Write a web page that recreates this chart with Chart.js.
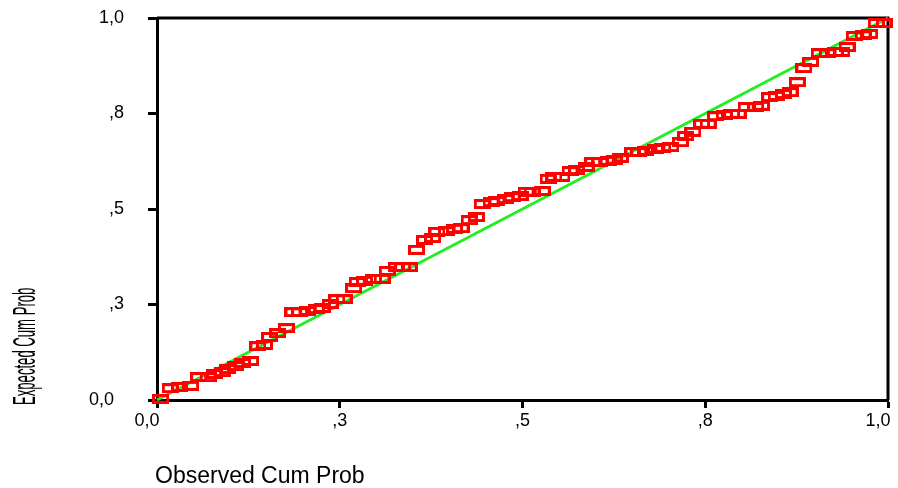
<!DOCTYPE html>
<html><head><meta charset="utf-8">
<script src="https://cdn.jsdelivr.net/npm/chart.js@4/dist/chart.umd.min.js"></script>
<style>html,body{margin:0;padding:0;background:#fff;overflow:hidden}#wrap{width:898px;height:488px}</style>
</head><body><div id="wrap"><canvas id="c" width="898" height="488"></canvas></div>
<script>
// Observed cumulative probability (x) and expected cumulative probability (y)
const obsCumProb = [0.005,0.018,0.031,0.046,0.057,0.070,0.079,0.089,0.097,0.108,0.117,0.128,0.138,0.147,0.154,0.165,0.177,0.186,0.195,0.206,0.218,0.226,0.237,0.246,0.256,0.269,0.274,0.284,0.296,0.308,0.315,0.327,0.336,0.345,0.355,0.366,0.377,0.383,0.396,0.407,0.416,0.427,0.437,0.445,0.457,0.465,0.477,0.486,0.497,0.505,0.513,0.527,0.535,0.543,0.554,0.565,0.574,0.587,0.596,0.606,0.617,0.626,0.634,0.651,0.659,0.668,0.682,0.692,0.703,0.716,0.723,0.733,0.745,0.754,0.764,0.776,0.786,0.795,0.806,0.819,0.827,0.838,0.847,0.857,0.866,0.876,0.885,0.894,0.906,0.917,0.928,0.937,0.944,0.954,0.966,0.975,0.984,0.995];
const expCumProb = [0.003,0.031,0.034,0.037,0.060,0.060,0.068,0.073,0.081,0.089,0.097,0.102,0.141,0.144,0.165,0.175,0.188,0.230,0.230,0.233,0.238,0.241,0.251,0.264,0.264,0.293,0.309,0.312,0.317,0.317,0.338,0.348,0.348,0.348,0.393,0.419,0.424,0.440,0.442,0.448,0.450,0.471,0.479,0.513,0.518,0.521,0.526,0.531,0.534,0.545,0.545,0.547,0.579,0.584,0.584,0.599,0.602,0.610,0.623,0.623,0.626,0.628,0.634,0.649,0.649,0.652,0.657,0.660,0.662,0.675,0.691,0.702,0.723,0.723,0.743,0.746,0.749,0.749,0.767,0.767,0.770,0.793,0.796,0.801,0.806,0.832,0.869,0.885,0.908,0.908,0.911,0.911,0.924,0.953,0.955,0.958,0.987,0.987];
const refLineX = [0, 1];
const refLineY = [0, 1];
const tickValues = [0, 0.25, 0.5, 0.75, 1];
const tickLabels = ["0,0", ",3", ",5", ",8", "1,0"];
const xTitle = "Observed Cum Prob";
const yTitle = "Expected Cum Prob";

function makeMarker(){
  const c = document.createElement('canvas');
  c.width = 17; c.height = 10;
  const g = c.getContext('2d');
  g.strokeStyle = '#ff0000'; g.lineWidth = 3;
  g.strokeRect(1.5, 1.5, 14, 7);
  return c;
}
const marker = makeMarker();

const framePlugin = {
  id: 'frame',
  beforeDatasetsDraw(chart){
    const {ctx, chartArea:a} = chart;
    ctx.save();
    ctx.strokeStyle = '#000'; ctx.lineWidth = 3;
    ctx.beginPath();
    ctx.moveTo(a.left, a.top); ctx.lineTo(a.right, a.top); ctx.lineTo(a.right, a.bottom);
    ctx.stroke();
    ctx.restore();
  },
  afterDraw(chart){
    const ctx = chart.ctx;
    ctx.save();
    ctx.fillStyle = '#000';
    ctx.font = '23px "Liberation Sans", Arial, sans-serif';
    ctx.textBaseline = 'alphabetic'; ctx.textAlign = 'left';
    ctx.fillText(xTitle, 155, 483);
    ctx.translate(35, 405);
    ctx.rotate(-Math.PI/2);
    ctx.scale(0.41, 1);
    ctx.font = '32px "Liberation Sans", Arial, sans-serif';
    ctx.fillText(yTitle, 0, 0);
    ctx.restore();
  }
};

const setTicks = s => { s.ticks = tickValues.map(v => ({value: v})); };
const tickFont = {family: '"Liberation Sans", Arial, sans-serif', size: 18};
const labelFor = v => tickLabels[tickValues.indexOf(v)];

new Chart(document.getElementById('c'), {
  data: {
    datasets: [
      {
        type: 'scatter',
        data: obsCumProb.map((x, i) => ({x, y: expCumProb[i]})),
        pointStyle: marker,
        pointRadius: 9,
        order: 1,
        clip: false
      },
      {
        type: 'line',
        data: refLineX.map((x, i) => ({x, y: refLineY[i]})),
        borderColor: '#22ee22',
        borderWidth: 3,
        pointRadius: 0,
        order: 2,
        clip: false
      }
    ]
  },
  options: {
    responsive: false,
    animation: false,
    devicePixelRatio: 1,
    layout: {padding: {left: 0, right: 8, top: 18, bottom: 0}},
    plugins: {legend: {display: false}, tooltip: {enabled: false}},
    scales: {
      x: {
        type: 'linear', min: 0, max: 1,
        afterBuildTicks: setTicks,
        afterFit: s => { s.height = 88; s.paddingLeft = 0; s.paddingRight = 0; },
        border: {display: true, color: '#000', width: 3},
        grid: {drawOnChartArea: false, drawTicks: true, tickLength: 8, tickWidth: 3, tickColor: '#000'},
        ticks: {color: '#000', font: tickFont, padding: 2, maxRotation: 0,
          callback: (v) => (v === 0 || v === 1) ? labelFor(v) + '    ' : labelFor(v)}
      },
      y: {
        type: 'linear', min: 0, max: 1,
        afterBuildTicks: setTicks,
        afterFit: s => { s.width = 157; s.paddingTop = 0; s.paddingBottom = 0; },
        border: {display: true, color: '#000', width: 3},
        grid: {drawOnChartArea: false, drawTicks: true, tickLength: 9, tickWidth: 3, tickColor: '#000'},
        ticks: {color: '#000', font: tickFont, padding: 24,
          callback: (v) => v === 0 ? labelFor(v) + '  ' : labelFor(v)}
      }
    }
  },
  plugins: [framePlugin]
});
</script>
</body></html>
